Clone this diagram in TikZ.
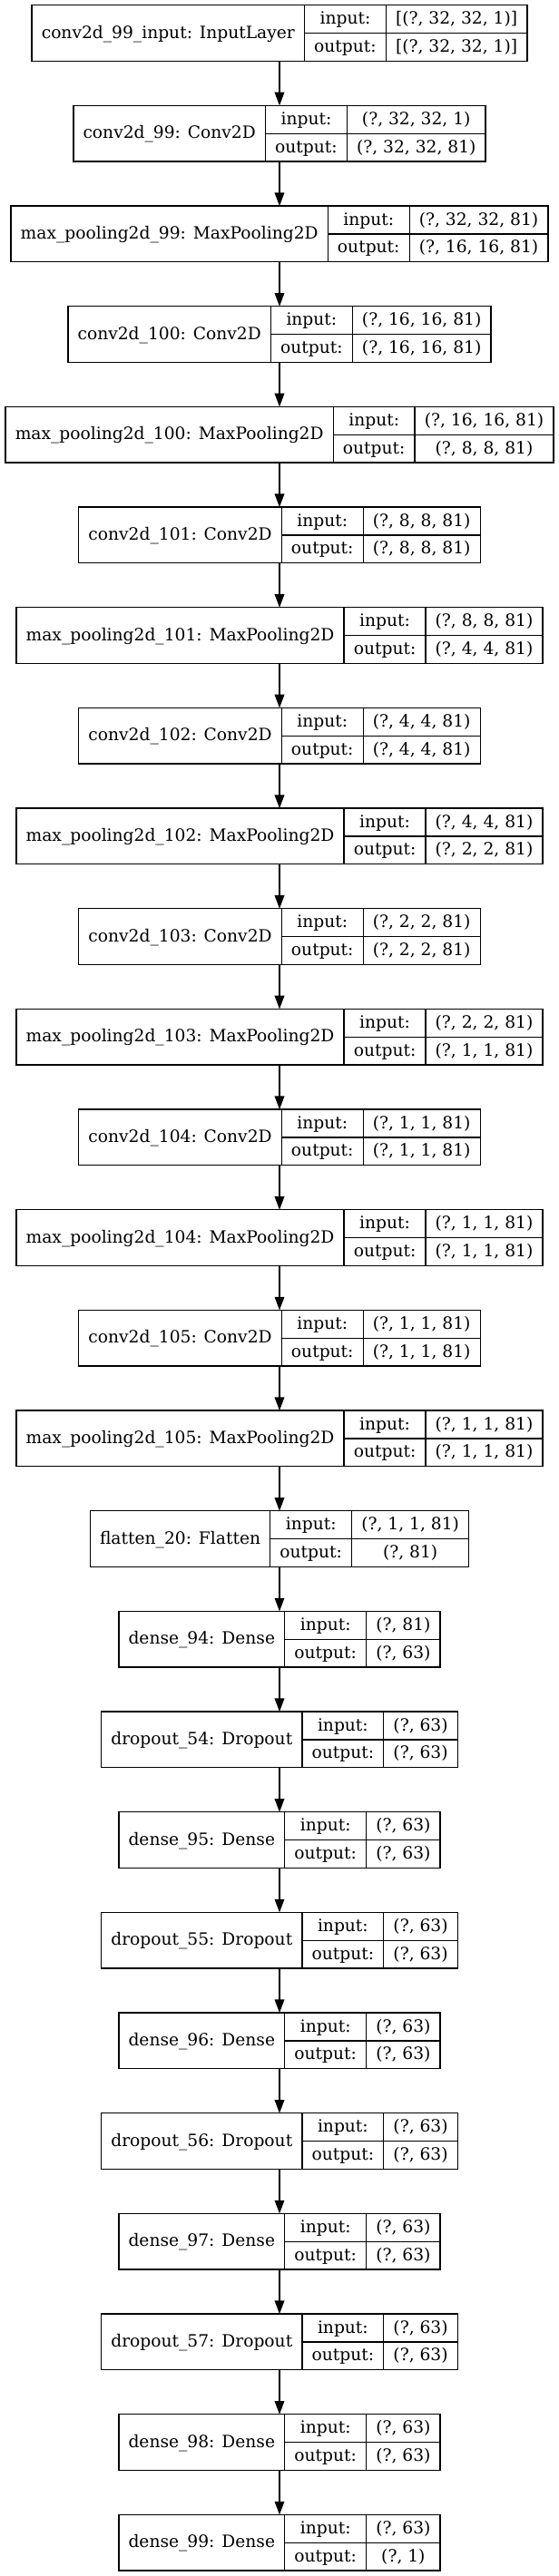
\documentclass[tikz,border=0pt]{standalone}
\usepackage{fontspec}
\setmainfont{DejaVu Serif}
\usetikzlibrary{arrows.meta,fit}

\newlength\wn \newlength\wl \newlength\wv \newlength\wtmp \newlength\wtot
\newcommand\lf{\fontsize{14pt}{16pt}\selectfont}

\tikzset{
  cell/.style={draw=black, line width=1pt, inner sep=0pt, outer sep=0pt,
    font=\lf, anchor=north west, text height=11.8pt, text depth=3.4pt},
  rec/.style={inner sep=0pt, outer sep=0pt, draw=none},
  edge/.style={draw=black, line width=1pt, -{Triangle[length=11pt,width=8pt]}},
}

% measure outside the picture: #1 id, #2 name, #3 input value, #4 output value
\makeatletter
\newcommand\deflayer[4]{%
  \settowidth\wn{\lf #2}\addtolength\wn{16pt}%
  \settowidth\wl{\lf output:}\addtolength\wl{16pt}%
  \settowidth\wv{\lf #3}\settowidth\wtmp{\lf #4}%
  \ifdim\wtmp>\wv\relax\setlength\wv{\wtmp}\fi
  \addtolength\wv{16pt}%
  \setlength\wtot{\wn}\addtolength\wtot{\wl}\addtolength\wtot{\wv}%
  \expandafter\edef\csname wn@#1\endcsname{\the\wn}%
  \expandafter\edef\csname wl@#1\endcsname{\the\wl}%
  \expandafter\edef\csname wv@#1\endcsname{\the\wv}%
  \expandafter\edef\csname wt@#1\endcsname{\the\wtot}%
  \expandafter\def\csname tn@#1\endcsname{#2}%
  \expandafter\def\csname ti@#1\endcsname{#3}%
  \expandafter\def\csname to@#1\endcsname{#4}%
}
% draw inside the picture: #1 id, #2 row index
\newcommand\drawlayer[2]{%
  \edef\curwn{\csname wn@#1\endcsname}%
  \edef\curwl{\csname wl@#1\endcsname}%
  \edef\curwv{\csname wv@#1\endcsname}%
  \edef\curwt{\csname wt@#1\endcsname}%
  \node[cell, minimum width=\curwn, minimum height=46.2pt] (#1-n)
    at ({231pt-0.5*\curwt}, {-4.3pt-#2*83pt}) {\csname tn@#1\endcsname};
  \node[cell, minimum width=\curwl, minimum height=23.1pt] (#1-li) at (#1-n.north east) {input:};
  \node[cell, minimum width=\curwl, minimum height=23.1pt] (#1-lo) at (#1-li.south west) {output:};
  \node[cell, minimum width=\curwv, minimum height=23.1pt] (#1-vi) at (#1-li.north east) {\csname ti@#1\endcsname};
  \node[cell, minimum width=\curwv, minimum height=23.1pt] (#1-vo) at (#1-vi.south west) {\csname to@#1\endcsname};
  \node[rec, fit=(#1-n)(#1-vo)] (#1) {};
}
\makeatother

\begin{document}
\deflayer{L0}{conv2d\_99\_input: InputLayer}{[(?, 32, 32, 1)]}{[(?, 32, 32, 1)]}
\deflayer{L1}{conv2d\_99: Conv2D}{(?, 32, 32, 1)}{(?, 32, 32, 81)}
\deflayer{L2}{max\_pooling2d\_99: MaxPooling2D}{(?, 32, 32, 81)}{(?, 16, 16, 81)}
\deflayer{L3}{conv2d\_100: Conv2D}{(?, 16, 16, 81)}{(?, 16, 16, 81)}
\deflayer{L4}{max\_pooling2d\_100: MaxPooling2D}{(?, 16, 16, 81)}{(?, 8, 8, 81)}
\deflayer{L5}{conv2d\_101: Conv2D}{(?, 8, 8, 81)}{(?, 8, 8, 81)}
\deflayer{L6}{max\_pooling2d\_101: MaxPooling2D}{(?, 8, 8, 81)}{(?, 4, 4, 81)}
\deflayer{L7}{conv2d\_102: Conv2D}{(?, 4, 4, 81)}{(?, 4, 4, 81)}
\deflayer{L8}{max\_pooling2d\_102: MaxPooling2D}{(?, 4, 4, 81)}{(?, 2, 2, 81)}
\deflayer{L9}{conv2d\_103: Conv2D}{(?, 2, 2, 81)}{(?, 2, 2, 81)}
\deflayer{L10}{max\_pooling2d\_103: MaxPooling2D}{(?, 2, 2, 81)}{(?, 1, 1, 81)}
\deflayer{L11}{conv2d\_104: Conv2D}{(?, 1, 1, 81)}{(?, 1, 1, 81)}
\deflayer{L12}{max\_pooling2d\_104: MaxPooling2D}{(?, 1, 1, 81)}{(?, 1, 1, 81)}
\deflayer{L13}{conv2d\_105: Conv2D}{(?, 1, 1, 81)}{(?, 1, 1, 81)}
\deflayer{L14}{max\_pooling2d\_105: MaxPooling2D}{(?, 1, 1, 81)}{(?, 1, 1, 81)}
\deflayer{L15}{flatten\_20: Flatten}{(?, 1, 1, 81)}{(?, 81)}
\deflayer{L16}{dense\_94: Dense}{(?, 81)}{(?, 63)}
\deflayer{L17}{dropout\_54: Dropout}{(?, 63)}{(?, 63)}
\deflayer{L18}{dense\_95: Dense}{(?, 63)}{(?, 63)}
\deflayer{L19}{dropout\_55: Dropout}{(?, 63)}{(?, 63)}
\deflayer{L20}{dense\_96: Dense}{(?, 63)}{(?, 63)}
\deflayer{L21}{dropout\_56: Dropout}{(?, 63)}{(?, 63)}
\deflayer{L22}{dense\_97: Dense}{(?, 63)}{(?, 63)}
\deflayer{L23}{dropout\_57: Dropout}{(?, 63)}{(?, 63)}
\deflayer{L24}{dense\_98: Dense}{(?, 63)}{(?, 63)}
\deflayer{L25}{dense\_99: Dense}{(?, 63)}{(?, 1)}%
\begin{tikzpicture}
\useasboundingbox (0,0) rectangle (462pt,-2130pt);
\foreach \i in {0,...,25} {\drawlayer{L\i}{\i}}
\foreach \a/\b in {L0/L1,L1/L2,L2/L3,L3/L4,L4/L5,L5/L6,L6/L7,L7/L8,L8/L9,L9/L10,
  L10/L11,L11/L12,L12/L13,L13/L14,L14/L15,L15/L16,L16/L17,L17/L18,L18/L19,
  L19/L20,L20/L21,L21/L22,L22/L23,L23/L24,L24/L25}
  \draw[edge] (\a.south) -- (\b.north);
\end{tikzpicture}
\end{document}
